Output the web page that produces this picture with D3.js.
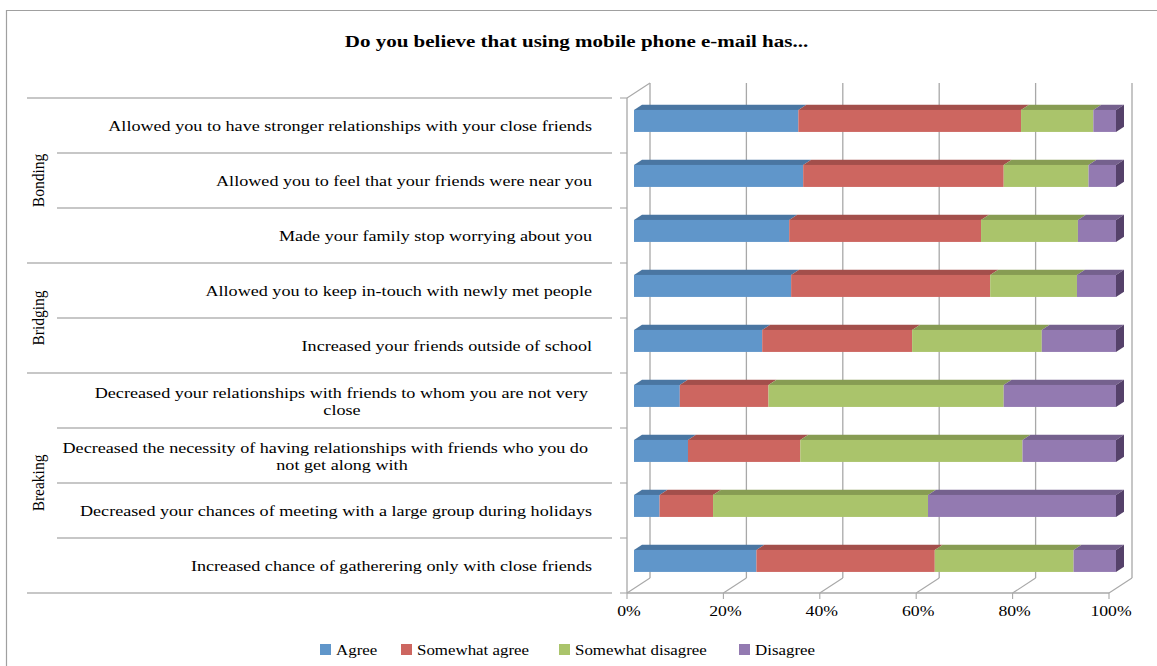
<!DOCTYPE html>
<html><head><meta charset="utf-8">
<script src="https://cdn.jsdelivr.net/npm/d3@7"></script>
<style>body{margin:0;background:#fff}svg{display:block}text{font-family:"Liberation Serif","Times New Roman",serif;fill:#000}</style>
</head><body><svg id="c" width="1157" height="666"></svg>
<script>
const categories = [
  ["Allowed you to have stronger relationships with your close friends"],
  ["Allowed you to feel that your friends were near you"],
  ["Made your family stop worrying about you"],
  ["Allowed you to keep in-touch with newly met people"],
  ["Increased your friends outside of school"],
  ["Decreased your relationships with friends to whom you are not very", "close"],
  ["Decreased the necessity of having relationships with friends who you do", "not get along with"],
  ["Decreased your chances of meeting with a large group during holidays"],
  ["Increased chance of gatherering only with close friends"]
];
const groups = ["Bonding", "Bridging", "Breaking"];
const groupSizes = [3, 2, 4];
const seriesNames = ["Agree", "Somewhat agree", "Somewhat disagree", "Disagree"];
const agree = [34.1, 35.1, 32.2, 32.6, 26.6, 9.5, 11.2, 5.3, 25.4];
const somewhatAgree = [46.2, 41.6, 39.8, 41.3, 31.1, 18.4, 23.3, 11.1, 37.0];
const somewhatDisagree = [15.0, 17.6, 20.1, 18.0, 26.9, 48.8, 46.1, 44.6, 28.8];
const disagree = [4.7, 5.7, 7.9, 8.1, 15.4, 23.3, 19.4, 39.0, 8.8];
const tickLabels = ["0%", "20%", "40%", "60%", "80%", "100%"];

const frontColors = ["#6096CA", "#CD6660", "#AAC46B", "#937AB1"];
const topColors = ["#4A76A2", "#A34F4B", "#879C53", "#75618E"];
const sideColors = ["#3E6288", "#88403D", "#6F8244", "#55416A"];

const svg = d3.select("#c");
const rows = categories.map((c, i) => ({i, Agree: agree[i], "Somewhat agree": somewhatAgree[i], "Somewhat disagree": somewhatDisagree[i], Disagree: disagree[i]}));
const stack = d3.stack().keys(seriesNames).offset(d3.stackOffsetExpand)(rows);

// stretched text helper (reference text is horizontally widened)
function stext(parent, tx, ty, str, size, sx, anchor, bold) {
  const t = parent.append("text")
    .attr("transform", `translate(${tx},${ty}) scale(${sx},1)`)
    .attr("text-anchor", anchor || "start")
    .style("font-size", size + "px").text(str);
  if (bold) t.style("font-weight", "bold");
  return t;
}

// geometry
const DEPTH = 23, RISE = 15;
const x = d3.scaleLinear().domain([0, 1]).range([627, 1109]);
const y = d3.scaleBand().domain(d3.range(categories.length)).range([98, 593]);
const shiftY = dz => -dz * RISE / DEPTH;

// border
svg.append("line").attr("x1", 7).attr("x2", 1157).attr("y1", 10.5).attr("y2", 10.5).attr("stroke", "#a0a0a0").attr("stroke-width", 1.2);
svg.append("line").attr("x1", 6.5).attr("x2", 6.5).attr("y1", 10).attr("y2", 666).attr("stroke", "#a0a0a0").attr("stroke-width", 1.2);

// title
stext(svg, 576.5, 47, "Do you believe that using mobile phone e-mail has...", 17.5, 1.2, "middle", true);

const gridColor = "#a8a8a8";
const ticks = d3.range(0, 1.0001, 0.2);
// back wall gridlines
svg.append("g").selectAll("line").data(ticks).join("line")
  .attr("x1", d => x(d) + DEPTH).attr("x2", d => x(d) + DEPTH)
  .attr("y1", 593 + shiftY(DEPTH)).attr("y2", 98 + shiftY(DEPTH))
  .attr("stroke", gridColor).attr("stroke-width", 1.3);
// floor diagonals
svg.append("g").selectAll("line").data(ticks).join("line")
  .attr("x1", d => x(d)).attr("x2", d => x(d) + DEPTH)
  .attr("y1", 593).attr("y2", 593 + shiftY(DEPTH))
  .attr("stroke", gridColor).attr("stroke-width", 1.1);
// floor front edge + ticks
svg.append("line").attr("x1", x(0)).attr("x2", x(1)).attr("y1", 593).attr("y2", 593).attr("stroke", gridColor).attr("stroke-width", 1.3);
svg.append("g").selectAll("line").data(ticks).join("line")
  .attr("x1", d => x(d)).attr("x2", d => x(d)).attr("y1", 593).attr("y2", 599)
  .attr("stroke", gridColor).attr("stroke-width", 1.1);
// left wall
svg.append("line").attr("x1", x(0)).attr("x2", x(0)).attr("y1", 98).attr("y2", 593).attr("stroke", gridColor).attr("stroke-width", 1.3);
svg.append("line").attr("x1", x(0)).attr("x2", x(0) + DEPTH).attr("y1", 98).attr("y2", 98 + shiftY(DEPTH)).attr("stroke", gridColor).attr("stroke-width", 1.1);
const bounds = d3.range(categories.length + 1).map(i => i === categories.length ? 593 : y(i));
svg.append("g").selectAll("line").data(bounds).join("line")
  .attr("x1", x(0) - 7).attr("x2", x(0)).attr("y1", d => d).attr("y2", d => d)
  .attr("stroke", gridColor).attr("stroke-width", 1.1);

// axis labels
const axG = svg.append("g");
ticks.forEach((d, i) => stext(axG, x(d) + 2, 616, tickLabels[i], 15.5, 1.14, "middle"));

// bars
const Z0 = 7, Z1 = 15, BH = 22;
const barG = svg.append("g");
stack.forEach((layer, si) => {
  layer.forEach((seg, ci) => {
    const yc = y(ci) + y.bandwidth() / 2 + shiftY(Z0);
    const x0 = x(seg[0]) + Z0, x1 = x(seg[1]) + Z0;
    const yt = yc - BH / 2, yb = yc + BH / 2;
    const dx = Z1 - Z0, dy = shiftY(Z1 - Z0);
    barG.append("polygon")
      .attr("points", [[x0, yt], [x1, yt], [x1 + dx, yt + dy], [x0 + dx, yt + dy]].join(" "))
      .attr("fill", topColors[si]);
    barG.append("rect").attr("x", x0).attr("y", yt).attr("width", Math.max(0, x1 - x0)).attr("height", BH)
      .attr("fill", frontColors[si]);
    if (si === stack.length - 1) {
      barG.append("polygon")
        .attr("points", [[x1, yt], [x1 + dx, yt + dy], [x1 + dx, yb + dy], [x1, yb]].join(" "))
        .attr("fill", sideColors[si]);
    }
  });
});

// category table
const tableColor = "#b4b4b4";
const groupStarts = [];
let acc = 0;
groupSizes.forEach(s => { groupStarts.push(acc); acc += s; });
svg.append("g").selectAll("line").data(bounds).join("line")
  .attr("x1", (d, i) => (groupStarts.includes(i) || i === categories.length) ? 27 : 57)
  .attr("x2", 612).attr("y1", d => d).attr("y2", d => d)
  .attr("stroke", tableColor).attr("stroke-width", 1.3);

const labG = svg.append("g");
const LS = 1.17;
categories.forEach((lines, i) => {
  const yc = y(i) + y.bandwidth() / 2;
  if (lines.length === 1) {
    stext(labG, 592, yc + 5, lines[0], 15.5, LS, "end");
  } else {
    stext(labG, 588, yc - 3, lines[0], 15.5, LS, "end");
    stext(labG, 342, yc + 14, lines[1], 15.5, LS, "middle");
  }
});

groups.forEach((g, gi) => {
  const s = groupStarts[gi], e = s + groupSizes[gi];
  const yc = (bounds[s] + bounds[e]) / 2;
  svg.append("text").attr("transform", `translate(44,${yc}) rotate(-90) scale(1,1.12)`)
    .attr("text-anchor", "middle").style("font-size", "15.5px").text(g);
});

// legend
const legX = [320, 401, 559, 739];
const leg = svg.append("g");
seriesNames.forEach((n, i) => {
  leg.append("rect").attr("x", legX[i]).attr("y", 644).attr("width", 11).attr("height", 11).attr("fill", frontColors[i]);
  stext(leg, legX[i] + 16, 655, n, 15.5, 1.09, "start");
});
</script></body></html>
